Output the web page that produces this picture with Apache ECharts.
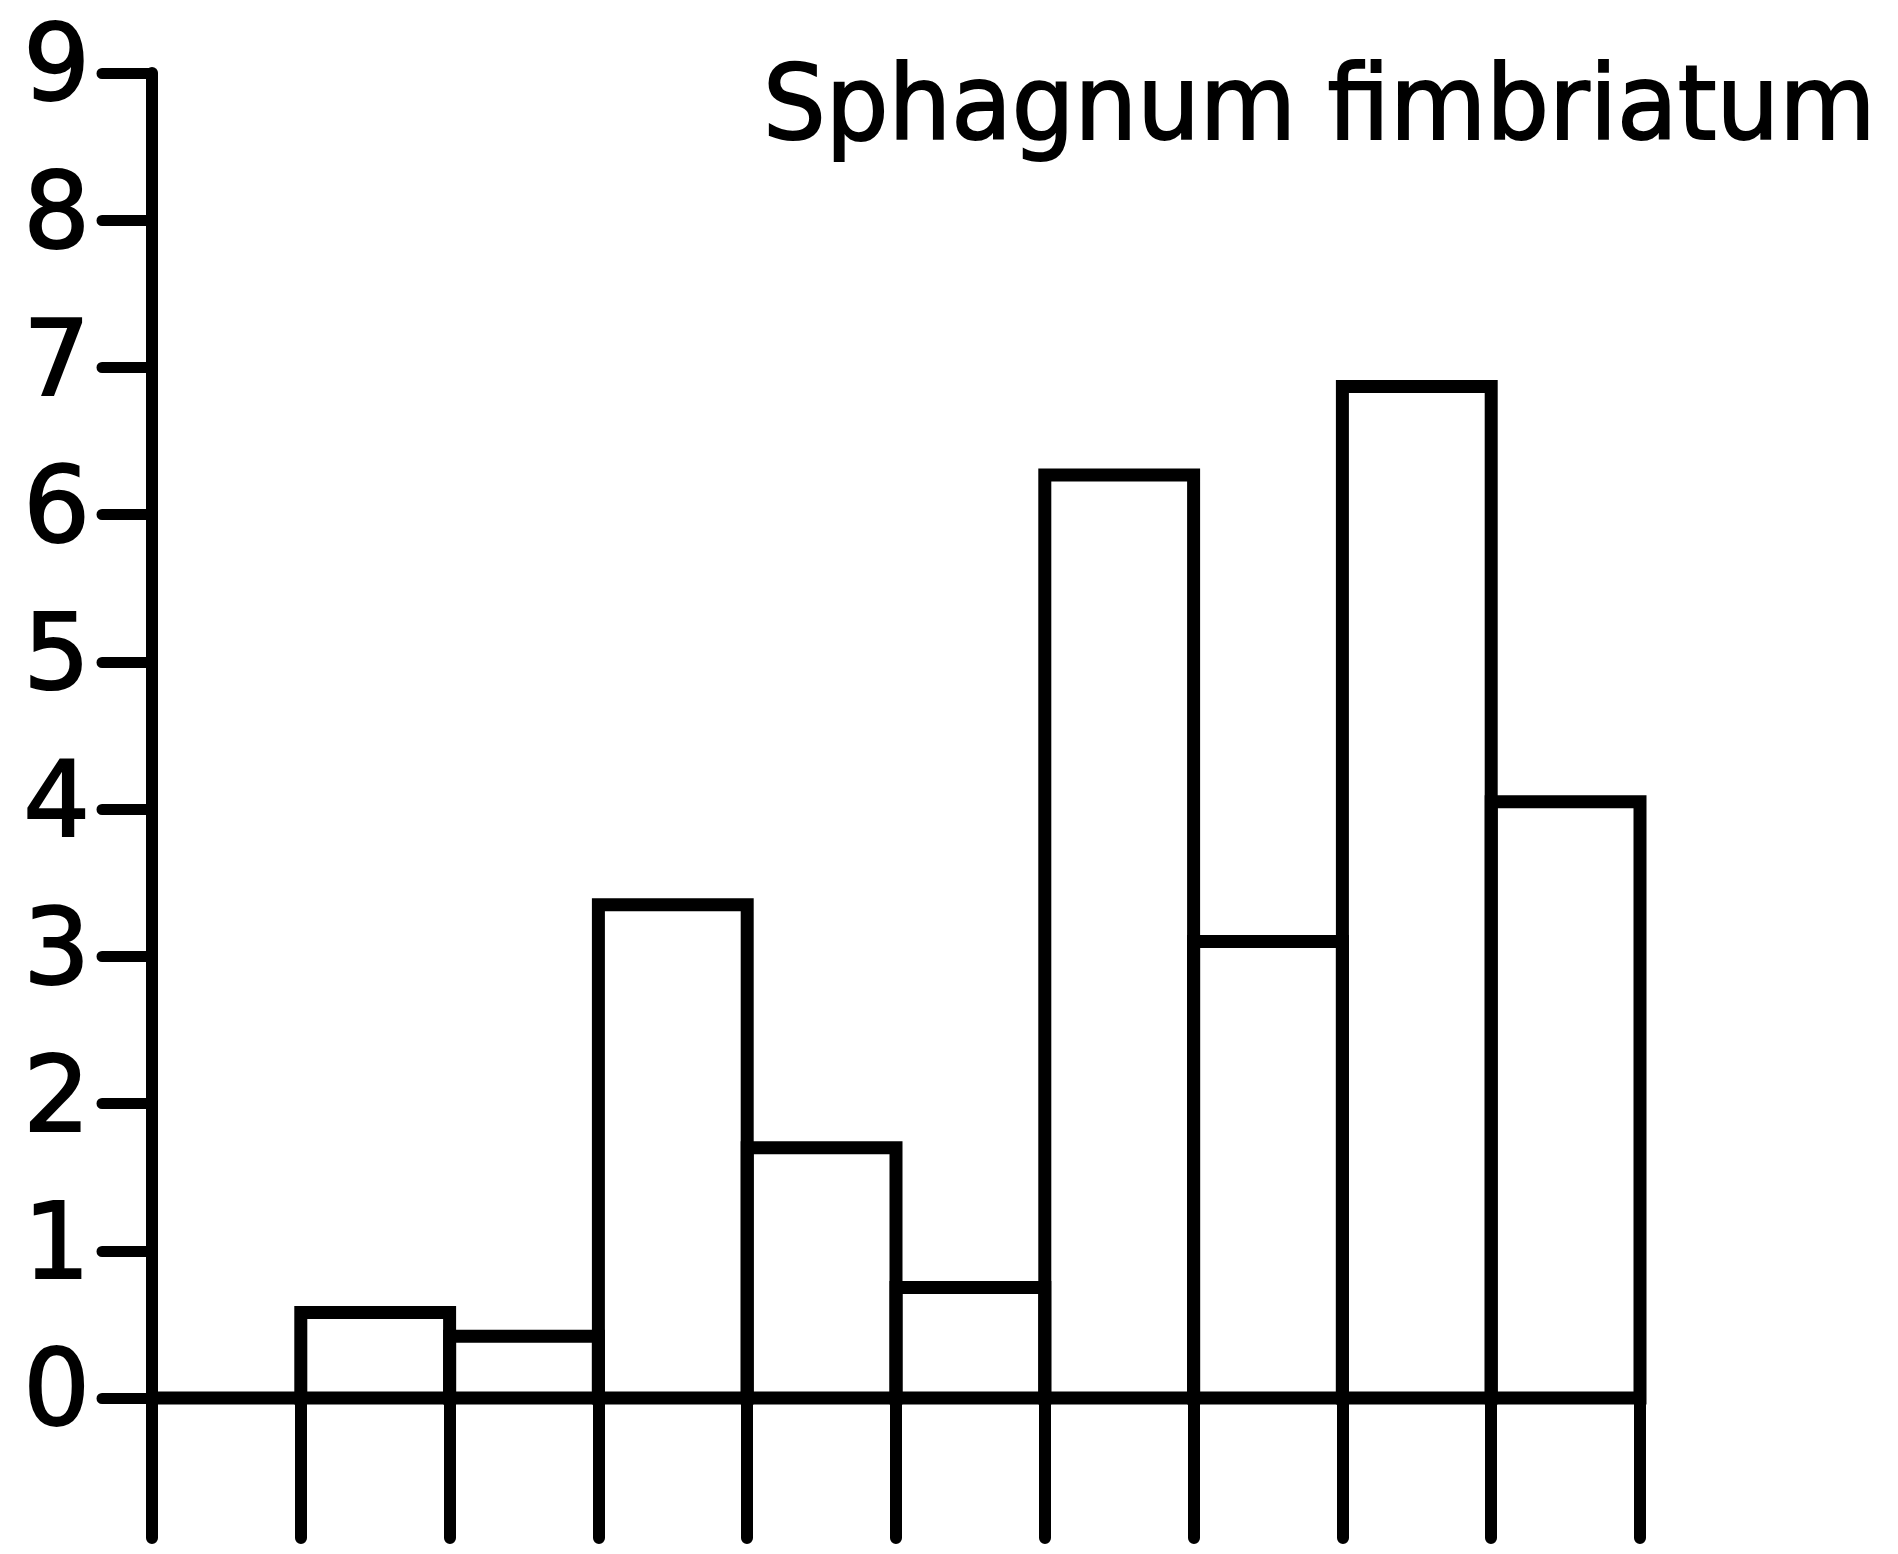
<!DOCTYPE html>
<html>
<head>
<meta charset="utf-8">
<script src="https://cdn.jsdelivr.net/npm/echarts@6/dist/echarts.min.js"></script>
<style>
  html, body { margin: 0; padding: 0; background: #ffffff; }
  #chart { width: 1898px; height: 1554px; }
</style>
</head>
<body>
<div id="chart"></div>
<script>
// Histogram classes (10 adjacent classes, no class labels printed)
const classes = ['1', '2', '3', '4', '5', '6', '7', '8', '9', '10'];
// Frequency per class
const frequency = [0, 0.58, 0.42, 3.35, 1.7, 0.75, 6.27, 3.1, 6.87, 4.05];
// Value axis tick labels
const yTicks = ['0', '1', '2', '3', '4', '5', '6', '7', '8', '9'];
const speciesName = 'Sphagnum fimbriatum';

const INK = '#000000';
const chart = echarts.init(document.getElementById('chart'), null, { renderer: 'canvas' });

// Each class drawn as an outline box sharing edges with its neighbours
function renderClass(params, api) {
  const idx = api.value(0);
  const val = api.value(1);
  const top = api.coord([idx, val]);
  const base = api.coord([idx, 0]);
  const w = api.size([1, 0])[0];
  return {
    type: 'rect',
    shape: { x: top[0] - w / 2, y: top[1], width: w, height: base[1] - top[1] },
    style: { fill: 'none', stroke: INK, lineWidth: 13, lineJoin: 'miter' }
  };
}

chart.setOption({
  backgroundColor: '#ffffff',
  animation: false,
  grid: { left: 152, right: 258, top: 73, bottom: 156, containLabel: false },
  xAxis: {
    type: 'category',
    data: classes,
    boundaryGap: true,
    axisLine: { show: true, lineStyle: { color: INK, width: 12 } },
    axisTick: { show: true, alignWithLabel: false, inside: false, length: 140, lineStyle: { color: INK, width: 12, cap: 'round' } },
    axisLabel: { show: false },
    splitLine: { show: false }
  },
  yAxis: {
    type: 'value',
    min: 0,
    max: 9,
    interval: 1,
    axisLine: { show: true, onZero: false, lineStyle: { color: INK, width: 12 } },
    axisTick: { show: true, inside: false, length: 50, lineStyle: { color: INK, width: 11, cap: 'round' } },
    axisLabel: {
      show: true,
      margin: 62,
      color: INK,
      fontFamily: 'DejaVu Sans',
      fontSize: 105,
      textBorderColor: INK,
      textBorderWidth: 2,
      formatter: (v) => yTicks[Math.round(v)]
    },
    splitLine: { show: false }
  },
  graphic: [{
    type: 'text',
    left: 762,
    top: 60,
    scaleX: 0.96,
    originX: 0,
    style: {
      text: speciesName,
      fill: INK,
      stroke: INK,
      lineWidth: 2,
      font: 'normal 103px "DejaVu Sans"'
    }
  }],
  series: [{
    type: 'custom',
    renderItem: renderClass,
    data: frequency.map((v, i) => [i, v]),
    encode: { x: 0, y: 1 },
    z: 3
  }]
});
</script>
</body>
</html>
